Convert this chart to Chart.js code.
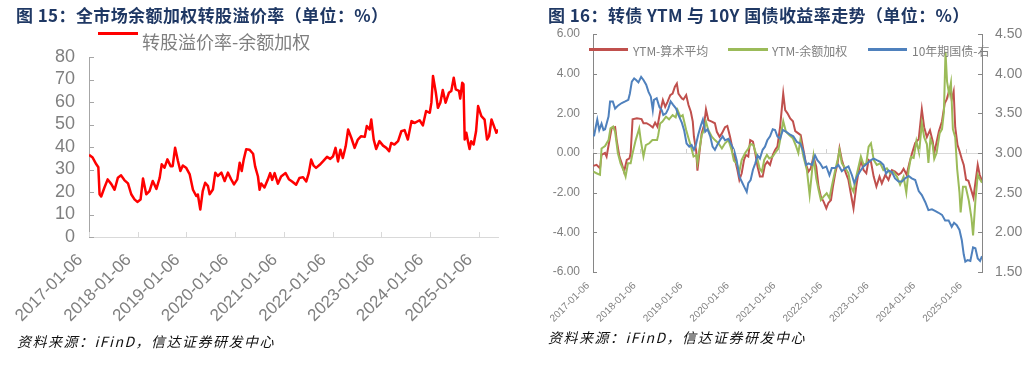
<!DOCTYPE html>
<html lang="zh-CN">
<head>
<meta charset="utf-8">
<script src="https://cdn.jsdelivr.net/npm/chart.js@4.4.1/dist/chart.umd.min.js"></script>
<style>
  html,body{margin:0;padding:0;background:#fff;}
  body{position:relative;width:1031px;height:365px;overflow:hidden;}
  canvas{position:absolute;top:0;}
  .t{position:absolute;white-space:nowrap;font-family:"Noto Sans CJK SC",sans-serif;}
  .title{font-size:17px;font-weight:700;color:#1F3864;line-height:20px;top:5px;letter-spacing:0.4px;}
  .src{font-size:14px;font-style:italic;color:#111;line-height:18px;letter-spacing:1.5px;}
  .sw{position:absolute;height:3px;}
  .lgt{position:absolute;white-space:nowrap;font-family:"Noto Sans CJK SC",sans-serif;color:#7F7F7F;}
</style>
</head>
<body>
<canvas id="c1" width="520" height="365" style="left:0;width:520px;height:365px;"></canvas>
<canvas id="c2" width="511" height="365" style="left:520px;width:511px;height:365px;"></canvas>

<div class="t title" style="left:16px;">图 15：全市场余额加权转股溢价率（单位：%）</div>
<div class="t title" style="left:548px;">图 16：转债 YTM 与 10Y 国债收益率走势（单位：%）</div>

<div class="sw" style="left:98px;top:32px;width:40px;background:#FF0000;"></div>
<div class="lgt" style="left:142px;top:32px;font-size:18px;line-height:18px;">转股溢价率-余额加权</div>

<div class="sw" style="left:589px;top:48px;width:39px;background:#C0504D;"></div>
<div class="lgt" style="left:633px;top:44px;font-size:12px;line-height:14px;">YTM-算术平均</div>
<div class="sw" style="left:728px;top:48px;width:40px;background:#9BBB59;"></div>
<div class="lgt" style="left:772px;top:44px;font-size:12px;line-height:14px;">YTM-余额加权</div>
<div class="sw" style="left:868px;top:48px;width:39px;background:#4F81BD;"></div>
<div class="lgt" style="left:912px;top:44px;font-size:12px;line-height:14px;">10年期国债-右</div>

<div class="t src" style="left:17px;top:332px;">资料来源：iFinD，信达证券研发中心</div>
<div class="t src" style="left:548px;top:328px;">资料来源：iFinD，信达证券研发中心</div>

<script>
// ---------- data ----------
const tickLabels = ['2017-01-06','2018-01-06','2019-01-06','2020-01-06','2021-01-06','2022-01-06','2023-01-06','2024-01-06','2025-01-06'];
const yearTickMonths = [0,12,24,36,48,60,72,84,96];

// months since 2017-01-06
const premiumMonths = [
  0,0.9,1.8,2.3,2.6,3.0,3.8,4.6,5.5,6.3,
  7.1,7.9,8.7,9.6,10.4,11.2,11.9,12.7,13.3,14.1,
  14.9,15.7,16.6,17.4,17.9,18.6,19.3,20.1,20.6,21.2,
  21.9,22.5,23.1,23.9,24.8,25.6,26.4,26.8,27.4,28.0,
  28.6,29.3,29.7,30.5,31.1,31.7,32.6,33.4,34.2,35.0,
  35.7,36.5,37.1,37.6,38.1,38.7,39.5,40.4,40.9,41.6,
  42.0,42.4,43.2,44.0,44.6,45.1,45.7,46.5,47.3,48.4,
  49.2,50.0,51.0,51.8,52.7,53.5,54.1,54.7,55.3,55.9,
  56.8,57.6,58.6,59.4,60.1,60.7,61.3,61.9,62.5,63.2,
  63.8,64.6,65.4,66.2,67.0,67.9,68.4,69.1,69.5,70.1,
  70.7,71.5,72.4,73.2,73.9,74.4,75.2,76.1,76.9,77.7,
  78.5,79.4,80.2,81.4,82.2,83.0,83.9,84.3,84.7,85.4,
  85.9,86.5,87.1,87.8,88.6,89.2,89.8,90.3,91.1,91.4,
  91.9,92.2,92.5,92.9,93.3,93.7,94.1,94.7,95.3,95.8,
  96.6,97.4,98.0,98.5,99.1,99.7,100.3,100.7
];
const premiumValues = [
  36.5,35.3,32.3,31,19,18,22,25.6,23.5,21,
  26.3,27.4,25.3,23.8,19,16.7,15.6,16.7,26,19,
  20.4,24.9,21.4,26.3,32.3,30.8,34.5,31.5,31.5,39.7,
  33.8,29.3,31.8,30.8,27.8,21,18.2,18.9,12.2,20.4,
  24.1,22.6,19,21.1,28.6,27.1,28.6,24.9,28.6,25.6,
  23.4,25.6,33,29.3,34.5,39,38.8,37,31.4,26.9,
  21,23.8,22,25.4,28.4,25.4,28.4,23.7,26.9,28.4,
  25.7,24.7,23.2,26.2,26.6,24.7,28.4,34.4,31.7,30.7,
  32.1,33.6,35.6,34.7,35.9,39.6,33.6,38.8,35.1,40.3,
  47.8,44,39.6,43.3,44.8,44.5,49.3,47.8,52.2,43.3,
  39.1,42.6,40.6,39.6,38.1,41.8,41.1,42.6,47,47.5,
  43.3,51.5,50.7,51.9,49.6,56,55.2,59.7,71.6,64.1,
  57.4,59.7,65.3,59.7,64.1,64.9,70.8,65.6,64.9,61.5,
  68.6,67.9,43.3,46.3,42.6,39.1,42.6,41.1,47,58.2,
  53.7,52.2,43.3,44.8,52.2,49.3,46.3,47.8
];

const ytmAvgMonths = [
  0.1,0.9,1.8,2.2,3.1,3.5,4.4,4.8,5.7,6.1,
  6.8,7.4,8.0,8.7,9.4,9.7,10.2,11.3,12.5,13.0,
  13.8,14.7,15.4,16.0,16.6,17.3,18.0,18.6,19.2,19.9,
  20.5,21.1,21.6,22.0,22.9,23.3,24.0,24.6,25.2,25.7,
  26.0,26.6,26.9,27.4,28.0,28.6,29.1,29.7,30.6,31.4,
  31.9,32.6,33.2,34.0,34.6,35.3,36.0,36.6,37.2,37.7,
  38.3,38.9,39.4,40.0,40.5,41.2,41.8,42.4,43.0,43.7,
  44.3,44.9,45.6,46.3,46.9,47.5,48.2,49.0,49.5,50.1,
  50.8,51.5,52.1,52.9,53.5,54.2,54.9,55.5,56.1,56.8,
  57.5,58.1,58.7,59.4,60.1,60.6,61.3,61.8,62.4,63.0,
  63.5,64.1,65.0,65.8,66.4,67.1,67.8,68.4,69.0,69.7,
  70.4,71.0,71.6,72.3,73.0,73.8,74.4,75.3,76.1,77.0,
  77.8,78.7,79.4,80.0,80.8,81.5,82.2,83.0,83.9,84.7,
  85.3,86.0,86.8,87.5,87.9,88.5,89.1,89.9,90.6,91.1,
  91.6,92.0,92.4,92.9,93.3,93.9,94.4,95.0,95.5,96.1,
  96.7,97.4,98.0,98.5,99.1,99.6,100.2
];
const ytmAvgValues = [
  -0.65,-0.6,-0.77,-0.1,0,-0.18,0.82,1.24,1.3,0.65,
  -0.18,-0.52,-0.94,-0.35,-0.27,0,1.7,1.75,1.71,1.5,
  1.5,1.4,1.29,1.53,1.33,2.08,2.67,2.33,2.58,2.92,
  3.0,3.34,3.5,3.0,2.75,2.7,2.92,2.42,2.08,1.58,
  0.82,0.07,-0.89,0,1,1.4,2.2,1.66,1.58,1.5,
  1.07,0.82,0.99,1.3,1.36,0.82,0.15,-0.35,-0.86,-1.36,
  -1.02,-0.35,-0.1,-0.18,0.65,0.57,0,-0.69,-1.19,-1.19,
  -0.6,-0.44,-0.6,-0.1,0.15,0.32,1.33,3.0,2.16,2.0,
  1.74,1.6,1.1,0.99,0.9,0.15,-0.6,-0.94,-0.77,-0.18,
  -0.69,-1.69,-2.2,-2.45,-2.79,-2.53,-2.37,-1.69,-1.02,-0.52,
  0.23,-0.35,-0.94,-1.36,-2.03,-2.79,-1.69,-0.94,-0.35,-0.86,
  -1.02,-0.35,-0.44,-1.19,-1.69,-1.19,-1.53,-1.1,-1.36,-0.86,
  -0.94,-1.1,-1.0,-0.8,-1.1,-0.5,0.0,0.5,0.7,2.2,
  1.3,0.8,1.15,0.6,0.0,0.55,1.1,1.6,2.5,2.7,
  3.05,3.3,2.7,3.1,1.3,0.4,0.1,-0.3,-0.6,-1.35,
  -1.4,-1.85,-2.25,-1.5,-0.6,-1.1,-1.4
];

const ytmWeightedMonths = [
  0.1,0.9,1.8,2.2,3.1,4.0,4.5,5.2,5.7,6.4,
  7.1,8.0,8.4,9.0,9.7,10.1,11.0,11.9,12.3,13.0,
  13.6,14.5,15.3,16.5,16.8,17.3,17.9,18.8,19.6,20.5,
  21.3,21.8,22.5,23.1,23.5,24.0,24.6,25.2,25.9,26.6,
  26.9,27.4,28.0,28.6,29.1,29.7,30.6,31.4,32.3,33.2,
  34.0,34.9,35.7,36.3,37.0,37.7,38.3,39.2,40.0,40.6,
  41.3,42.2,42.9,43.5,44.1,44.8,45.4,46.3,46.9,47.8,
  48.2,48.6,49.0,49.7,50.6,51.5,52.3,52.9,53.4,54.2,
  55.1,55.8,56.4,56.8,57.5,58.1,58.7,59.4,60.2,60.9,
  61.5,62.4,63.0,63.5,64.1,65.0,65.8,66.4,67.1,67.8,
  68.4,69.0,69.7,70.4,71.0,71.6,72.3,73.1,74.0,74.8,
  75.7,76.5,77.4,78.3,79.1,80.0,80.7,81.3,81.9,82.6,
  83.3,84.0,84.7,85.3,86.0,86.4,86.9,87.5,87.9,88.5,
  89.3,89.9,90.4,90.8,91.2,91.7,92.2,92.7,93.3,93.8,
  94.4,94.7,95.3,96.0,96.8,97.5,97.9,98.5,99.1,99.6,
  100.2
];
const ytmWeightedValues = [
  -0.94,-1.02,-1.1,0.23,0.35,0.65,1.24,1.33,1.07,0,
  -0.52,-0.94,-1.19,-0.52,-0.52,-0.1,0.65,1.24,0.65,-0.18,
  0.4,0.49,0.65,0.65,0.9,1.49,1.58,1.83,1.7,1.91,
  1.8,2.16,1.83,1.91,1.58,1.16,0.74,0.35,-0.18,-0.1,
  -0.49,0.15,0.9,1.16,1.58,1.16,0.82,0.65,0.49,0.23,
  0.49,0.65,0.15,-0.39,-0.52,-0.94,-0.35,0,0.23,0.45,
  0.4,-0.18,-0.77,-0.94,-0.35,-0.1,-0.27,-0.18,0,0.23,
  0.65,1.16,1.6,1.07,0.9,0.74,0.35,0,0.65,-0.18,
  -0.86,-2.11,-0.95,-0.18,-1.28,-1.86,-2.37,-2.2,-2.03,-2.28,
  -1.69,-0.86,-0.35,0.15,-0.52,-0.77,-1.02,-1.69,-1.95,-1.19,
  -0.69,-0.18,-0.6,-0.52,0.32,0.49,-0.35,-0.6,-0.52,-0.86,
  -0.77,-1.02,-0.94,-1.19,-1.6,-1.2,-2.0,-0.86,-0.2,-0.25,
  0.6,0,1.5,0.8,0.45,-0.5,0.7,0.4,-0.3,0,
  1.0,1.2,2.1,5.1,3.6,3.0,3.55,1.2,0.8,-0.8,
  -2.0,-3.0,-1.7,-1.7,-2.4,-3.3,-4.15,-2.4,-1.1,-1.3,
  -1.5
];

const cgb10Months = [
  0.25,0.8,1.1,1.6,2.2,2.7,3.1,3.5,4.0,4.4,
  5.1,5.7,6.5,7.4,8.3,9.1,9.5,10.0,10.6,11.1,
  11.7,12.4,13.0,13.7,14.3,14.9,15.4,15.7,16.4,17.1,
  17.7,18.1,18.8,19.4,20.0,20.6,21.4,22.0,22.9,23.5,
  24.1,24.8,25.4,26.0,26.5,27.1,27.8,28.3,28.9,29.5,
  30.2,30.8,31.4,32.0,32.7,33.4,34.0,34.9,35.7,36.3,
  37.0,37.7,38.3,38.9,39.6,40.0,40.6,41.2,41.8,42.4,
  43.0,43.7,44.3,44.9,45.6,46.3,46.9,47.5,48.2,48.9,
  49.7,50.8,51.6,52.5,53.4,54.2,54.9,55.5,56.4,57.2,
  57.8,58.5,59.2,60.1,60.9,61.5,62.4,63.2,64.1,65.0,
  65.8,66.7,67.3,68.0,68.8,69.7,70.7,71.6,72.3,73.1,
  74.0,74.8,75.5,76.1,77.0,77.8,78.7,79.6,80.4,81.3,
  82.1,83.0,83.9,84.7,85.6,86.4,87.3,88.1,88.9,89.9,
  90.7,91.6,92.4,93.0,93.7,94.4,95.0,95.5,95.9,96.5,
  97.2,97.9,98.5,99.1,99.7,100.2
];
const cgb10Values = [
  3.21,3.35,3.42,3.29,3.37,3.29,3.30,3.37,3.46,3.65,
  3.65,3.56,3.60,3.63,3.65,3.67,3.75,3.90,3.94,3.92,
  3.89,3.96,3.92,3.86,3.77,3.71,3.54,3.67,3.69,3.58,
  3.54,3.48,3.50,3.56,3.65,3.61,3.56,3.48,3.38,3.28,
  3.12,3.08,3.10,3.04,3.10,3.23,3.35,3.42,3.27,3.30,
  3.21,3.08,3.04,3.10,3.16,3.21,3.16,3.18,3.10,3.04,
  2.91,2.70,2.64,2.58,2.51,2.62,2.66,2.79,2.87,2.97,
  2.93,3.04,3.08,3.16,3.21,3.30,3.29,3.21,3.18,3.29,
  3.27,3.23,3.21,3.14,3.12,3.02,2.85,2.87,2.85,2.97,
  2.91,2.87,2.81,2.83,2.72,2.81,2.81,2.85,2.77,2.81,
  2.83,2.72,2.62,2.70,2.77,2.83,2.87,2.91,2.93,2.91,
  2.89,2.85,2.74,2.78,2.76,2.68,2.64,2.64,2.68,2.71,
  2.68,2.66,2.52,2.47,2.38,2.28,2.29,2.27,2.25,2.22,
  2.15,2.15,2.07,2.12,2.09,2.03,1.9,1.72,1.63,1.65,
  1.64,1.81,1.80,1.67,1.64,1.70
];

// ---------- helpers ----------
const toPoints = (xs, ys) => xs.map((x, i) => ({ x: x, y: ys[i] }));
const FONT = "'Liberation Sans', Arial, sans-serif";

const tickMarks = {
  id: 'tickMarks',
  beforeDatasetsDraw(chart, args, o) {
    if (!o.zeroLine) return;
    const ctx = chart.ctx, a = chart.chartArea;
    const s = chart.scales[o.zeroLine.scale];
    const y = Math.round(s.getPixelForValue(0)) + 0.5;
    ctx.save();
    ctx.strokeStyle = o.zeroLine.color; ctx.lineWidth = 1;
    ctx.beginPath(); ctx.moveTo(a.left, y); ctx.lineTo(a.right, y); ctx.stroke();
    ctx.restore();
  },
  afterDatasetsDraw(chart, args, o) {
    const ctx = chart.ctx, a = chart.chartArea;
    ctx.save(); ctx.lineWidth = 1;
    for (const it of (o.items || [])) {
      const s = chart.scales[it.scale];
      ctx.strokeStyle = it.color;
      ctx.beginPath();
      for (const t of s.ticks) {
        const p = Math.round(s.getPixelForValue(t.value)) + 0.5;
        if (it.side === 'left') { ctx.moveTo(a.left, p); ctx.lineTo(a.left + it.len, p); }
        else if (it.side === 'right') { ctx.moveTo(a.right, p); ctx.lineTo(a.right - it.len, p); }
        else {
          const base = it.ref ? Math.round(chart.scales[it.ref].getPixelForValue(0)) : a.bottom;
          ctx.moveTo(p, base); ctx.lineTo(p, base - it.len);
        }
      }
      ctx.stroke();
    }
    ctx.restore();
  }
};

const yearTicks = s => { s.ticks = yearTickMonths.map(v => ({ value: v })); };

// ---------- chart 1 ----------
new Chart(document.getElementById('c1'), {
  type: 'line',
  data: { datasets: [{
    label: '转股溢价率-余额加权',
    data: toPoints(premiumMonths, premiumValues),
    borderColor: '#FF0000', borderWidth: 2.5, pointRadius: 0, tension: 0, fill: false,
    borderJoinStyle: 'round'
  }]},
  options: {
    responsive: false, animation: false, devicePixelRatio: 1,
    layout: { padding: { top: 57, right: 22, left: 0, bottom: 0 } },
    plugins: {
      legend: { display: false }, tooltip: { enabled: false },
      tickMarks: { items: [
        { scale: 'y', side: 'left', len: 5, color: '#A6A6A6' },
        { scale: 'x', side: 'bottom', len: 5, color: '#D9D9D9' }
      ]}
    },
    scales: {
      x: {
        type: 'linear', min: 0, max: 100.7,
        afterBuildTicks: yearTicks,
        afterFit: s => { s.height = 128; },
        grid: { display: false, drawTicks: false },
        border: { display: true, color: '#D9D9D9' },
        ticks: { autoSkip: false, minRotation: 45, maxRotation: 45, padding: 13, labelOffset: -9,
          color: '#7F7F7F', font: { family: FONT, size: 17 },
          callback: (v, i) => tickLabels[i] }
      },
      y: {
        min: 0, max: 80,
        afterFit: s => { s.width = 89; },
        grid: { display: false, drawTicks: false },
        border: { display: true, color: '#A6A6A6' },
        ticks: { stepSize: 10, autoSkip: false, padding: 14, color: '#7F7F7F', font: { family: FONT, size: 18 } }
      }
    }
  },
  plugins: [tickMarks]
});

// ---------- chart 2 ----------
new Chart(document.getElementById('c2'), {
  type: 'line',
  data: { datasets: [
    { label: '10年期国债-右', data: toPoints(cgb10Months, cgb10Values), yAxisID: 'yR', order: 0,
      borderColor: '#4F81BD', borderWidth: 2, pointRadius: 0, tension: 0, fill: false },
    { label: 'YTM-余额加权', data: toPoints(ytmWeightedMonths, ytmWeightedValues), yAxisID: 'yL', order: 1,
      borderColor: '#9BBB59', borderWidth: 2, pointRadius: 0, tension: 0, fill: false },
    { label: 'YTM-算术平均', data: toPoints(ytmAvgMonths, ytmAvgValues), yAxisID: 'yL', order: 2,
      borderColor: '#C0504D', borderWidth: 2, pointRadius: 0, tension: 0, fill: false }
  ]},
  options: {
    responsive: false, animation: false, devicePixelRatio: 1,
    layout: { padding: { top: 34, right: 0, left: 0, bottom: 0 } },
    plugins: {
      legend: { display: false }, tooltip: { enabled: false },
      tickMarks: {
        zeroLine: { scale: 'yL', color: '#D9D9D9' },
        items: [
          { scale: 'yL', side: 'left', len: 4, color: '#868686' },
          { scale: 'yR', side: 'right', len: 4, color: '#868686' },
          { scale: 'x', side: 'bottom', ref: 'yL', len: 4, color: '#D0D0D0' }
        ]
      }
    },
    scales: {
      x: {
        type: 'linear', min: 0, max: 100.2,
        afterBuildTicks: yearTicks,
        afterFit: s => { s.height = 93; },
        grid: { display: false, drawTicks: false },
        border: { display: false },
        ticks: { autoSkip: false, minRotation: 45, maxRotation: 45, padding: 8, labelOffset: -5,
          color: '#7F7F7F', font: { family: FONT, size: 10 },
          callback: (v, i) => tickLabels[i] }
      },
      yL: {
        position: 'left', min: -6, max: 6,
        afterFit: s => { s.width = 73; },
        grid: { display: false, drawTicks: false },
        border: { display: true, color: '#868686' },
        ticks: { stepSize: 2, autoSkip: false, padding: 13, color: '#7F7F7F', font: { family: FONT, size: 12 },
          callback: v => Number(v).toFixed(2) }
      },
      yR: {
        position: 'right', min: 1.5, max: 4.5,
        afterFit: s => { s.width = 49; },
        grid: { display: false, drawTicks: false },
        border: { display: true, color: '#868686' },
        ticks: { stepSize: 0.5, autoSkip: false, padding: 13, color: '#7F7F7F', font: { family: FONT, size: 14 },
          callback: v => Number(v).toFixed(2) }
      }
    }
  },
  plugins: [tickMarks]
});
</script>
</body>
</html>
